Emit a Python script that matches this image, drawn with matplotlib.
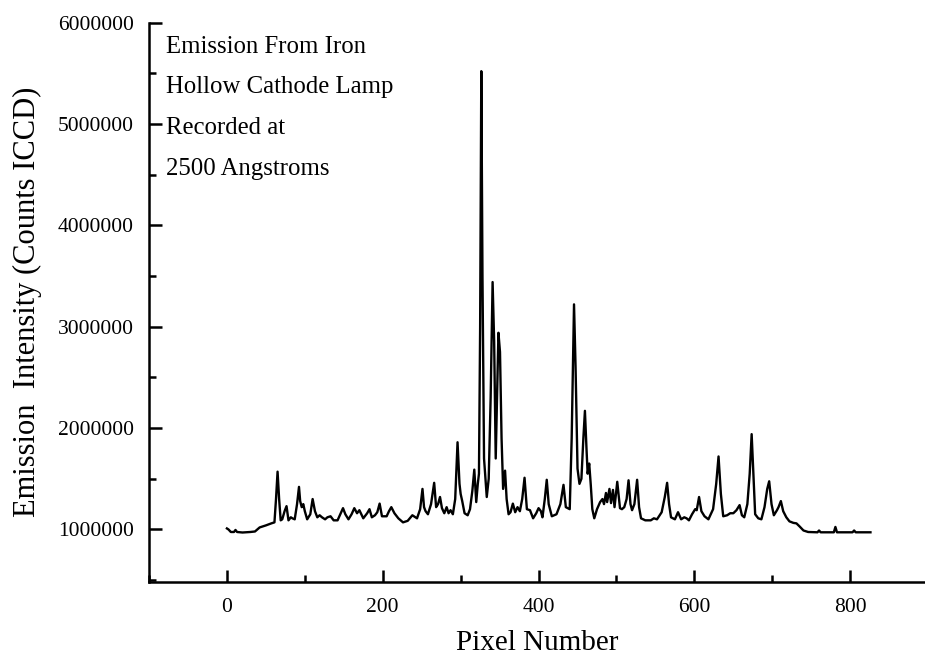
import matplotlib
matplotlib.use("Agg")
import matplotlib.pyplot as plt
from matplotlib.ticker import MultipleLocator

# Spectrum of an iron hollow cathode lamp: detector pixel vs. ICCD counts
pixel = [
    0, 2, 5, 9, 11, 13, 20, 30, 36, 42, 50, 57, 61, 63, 65, 67, 69, 71, 74, 76.5,
    79, 82, 84, 87, 90, 92.5, 94, 96, 98, 100, 103, 107, 110, 113, 116, 119, 122,
    126, 129, 133, 137, 142, 146, 149, 152, 156, 160, 163.5, 167, 170, 175, 180,
    183, 186, 190, 193, 196, 199, 205, 208, 211, 215, 220, 226, 232, 238, 244,
    248, 251, 253, 255, 258, 262, 266, 268.5, 271, 273.5, 276, 279, 282, 284.5,
    287, 290, 293, 296, 298.5, 300, 302, 305, 309, 312, 315, 317.5, 320, 322,
    323.5, 325, 326.5, 328, 330, 333.5, 336, 338.5, 341, 343, 345, 347, 348.5,
    350.5, 352.5, 354.5, 357, 359, 361.5, 364, 367, 370, 373, 376, 379, 382, 385,
    389, 393, 397, 400, 403, 405, 408, 410.5, 413, 417, 423, 428, 432, 435, 440,
    442.5, 445.5, 447.5, 450, 452.5, 455, 457.5, 459.5, 461.5, 463, 465, 467,
    469, 471.5, 475, 479, 482, 484, 486.5, 488, 491, 493, 495.5, 497.5, 501,
    504.5, 507, 510, 513, 515.5, 518, 520, 523, 526.5, 529, 531.5, 537, 544, 548,
    552, 558, 562, 565, 567.5, 570, 575, 579, 583, 587, 590, 593, 597, 601, 603,
    606, 609, 613, 618, 624, 628, 631, 634, 637, 642, 646, 650, 654, 658, 661,
    664, 668, 671, 673.5, 676, 678, 682, 686, 690, 693.5, 696, 699, 702, 706,
    708, 711, 714, 718, 722, 727, 731, 735, 740, 746, 758, 760, 762, 779, 781,
    783, 803, 805, 807, 826,
]
counts = [
    1.01e6, 1.0e6, 0.975e6, 0.975e6, 0.995e6, 0.975e6, 0.97e6, 0.975e6, 0.98e6,
    1.02e6, 1.04e6, 1.06e6, 1.07e6, 1.3e6, 1.57e6, 1.3e6, 1.09e6, 1.10e6, 1.18e6,
    1.23e6, 1.09e6, 1.12e6, 1.11e6, 1.10e6, 1.25e6, 1.42e6, 1.28e6, 1.22e6,
    1.25e6, 1.18e6, 1.10e6, 1.15e6, 1.30e6, 1.18e6, 1.12e6, 1.14e6, 1.12e6,
    1.10e6, 1.12e6, 1.13e6, 1.09e6, 1.09e6, 1.16e6, 1.21e6, 1.15e6, 1.10e6,
    1.15e6, 1.21e6, 1.16e6, 1.19e6, 1.11e6, 1.16e6, 1.20e6, 1.12e6, 1.14e6,
    1.17e6, 1.255e6, 1.13e6, 1.13e6, 1.18e6, 1.22e6, 1.16e6, 1.11e6, 1.07e6,
    1.085e6, 1.14e6, 1.11e6, 1.20e6, 1.40e6, 1.22e6, 1.18e6, 1.15e6, 1.25e6,
    1.46e6, 1.22e6, 1.25e6, 1.32e6, 1.21e6, 1.16e6, 1.22e6, 1.16e6, 1.19e6,
    1.15e6, 1.30e6, 1.86e6, 1.45e6, 1.35e6, 1.28e6, 1.16e6, 1.14e6, 1.20e6,
    1.38e6, 1.59e6, 1.27e6, 1.45e6, 1.55e6, 3.0e6, 5.52e6, 3.5e6, 1.7e6, 1.32e6,
    1.5e6, 2.3e6, 3.44e6, 2.85e6, 1.70e6, 2.4e6, 2.94e6, 2.75e6, 1.9e6, 1.40e6,
    1.58e6, 1.30e6, 1.15e6, 1.17e6, 1.255e6, 1.17e6, 1.22e6, 1.18e6, 1.30e6,
    1.51e6, 1.20e6, 1.19e6, 1.11e6, 1.16e6, 1.21e6, 1.18e6, 1.12e6, 1.30e6,
    1.49e6, 1.25e6, 1.13e6, 1.15e6, 1.25e6, 1.44e6, 1.22e6, 1.20e6, 1.9e6,
    3.22e6, 2.6e6, 1.6e6, 1.45e6, 1.5e6, 1.9e6, 2.17e6, 1.8e6, 1.55e6, 1.65e6,
    1.44e6, 1.2e6, 1.11e6, 1.2e6, 1.27e6, 1.30e6, 1.25e6, 1.36e6, 1.27e6,
    1.40e6, 1.26e6, 1.39e6, 1.22e6, 1.47e6, 1.21e6, 1.20e6, 1.22e6, 1.30e6,
    1.485e6, 1.25e6, 1.19e6, 1.25e6, 1.49e6, 1.22e6, 1.11e6, 1.09e6, 1.09e6,
    1.11e6, 1.10e6, 1.17e6, 1.32e6, 1.46e6, 1.25e6, 1.12e6, 1.10e6, 1.17e6,
    1.10e6, 1.12e6, 1.11e6, 1.09e6, 1.15e6, 1.20e6, 1.19e6, 1.32e6, 1.18e6,
    1.13e6, 1.10e6, 1.20e6, 1.45e6, 1.72e6, 1.35e6, 1.13e6, 1.14e6, 1.16e6,
    1.16e6, 1.19e6, 1.24e6, 1.14e6, 1.12e6, 1.25e6, 1.55e6, 1.94e6, 1.50e6,
    1.15e6, 1.11e6, 1.10e6, 1.22e6, 1.40e6, 1.475e6, 1.25e6, 1.14e6, 1.19e6,
    1.22e6, 1.28e6, 1.18e6, 1.12e6, 1.08e6, 1.065e6, 1.06e6, 1.03e6, 0.99e6,
    0.975e6, 0.972e6, 0.99e6, 0.972e6, 0.972e6, 1.025e6, 0.972e6, 0.972e6,
    0.99e6, 0.972e6, 0.972e6,
]

x_ticks = [0, 200, 400, 600, 800]
y_ticks = [1000000, 2000000, 3000000, 4000000, 5000000, 6000000]
note_lines = ["Emission From Iron", "Hollow Cathode Lamp", "Recorded at",
              "2500 Angstroms"]

plt.rcParams["font.family"] = ["Liberation Serif", "DejaVu Serif"]

fig = plt.figure(figsize=(9.25, 6.56), dpi=100)
ax = fig.add_axes([0.1611, 0.1133, 0.8389, 0.8524])

ax.plot(pixel, counts, color="black", linewidth=1.7, solid_joinstyle="round")

ax.set_xlim(-100, 896)
ax.set_ylim(485000, 6000000)
ax.set_xticks(x_ticks)
ax.set_yticks(y_ticks)
ax.set_xticklabels([str(v) for v in x_ticks])
ax.set_yticklabels([str(v) for v in y_ticks])
ax.xaxis.set_minor_locator(MultipleLocator(100))
ax.yaxis.set_minor_locator(MultipleLocator(500000))

for side in ("top", "right"):
    ax.spines[side].set_visible(False)
for side in ("left", "bottom"):
    ax.spines[side].set_linewidth(1.8)

ax.tick_params(which="major", direction="in", length=9, width=1.8,
               labelsize=15.5, pad=11)
ax.tick_params(which="minor", direction="in", length=5, width=1.8)
ax.tick_params(axis="x", which="major", pad=12)

ax.set_xlabel("Pixel Number", fontsize=21, labelpad=9)
ax.set_ylabel("Emission  Intensity (Counts ICCD)", fontsize=22, labelpad=11)

for text, yfrac in zip(note_lines, [0.9446, 0.8747, 0.8014, 0.7266]):
    ax.text(0.022, yfrac, text, transform=ax.transAxes, fontsize=17.8,
            ha="left", va="baseline")

fig.savefig("out.png", dpi=100)
